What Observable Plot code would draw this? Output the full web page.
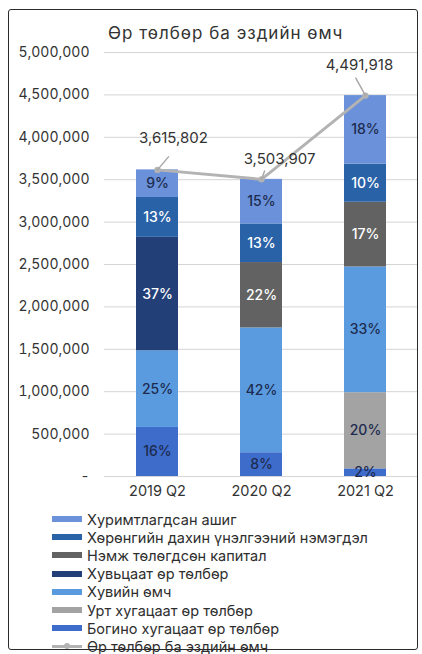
<!DOCTYPE html>
<html>
<head>
<meta charset="utf-8">
<script src="https://cdn.jsdelivr.net/npm/d3@7"></script>
<script src="https://cdn.jsdelivr.net/npm/@observablehq/plot@0.6"></script>
<style>
  html, body { margin: 0; padding: 0; background: #fff; }
  body { width: 422px; height: 654px; position: relative; overflow: hidden; font-family: Inter, "Noto Sans", sans-serif; }
  #frame { position: absolute; left: 8px; top: 9px; width: 408px; height: 639px; border: 1.5px solid #2b2b2b; border-radius: 3px; }
  #title { position: absolute; left: 99px; top: 13px; font-size: 17px; color: #333; letter-spacing: 1px; }
  #chart { position: absolute; left: 0px; top: 26px; }
  #legend { position: absolute; left: 43px; top: 500px; font-size: 14.5px; color: #2e2e2e; }
  .item { display: flex; align-items: center; height: 18.2px; white-space: nowrap; }
  .sw { width: 30px; height: 6px; margin-right: 5px; }
  .ln { width: 30px; height: 8px; margin-right: 5px; position: relative; }
  .ln::before { content: ""; position: absolute; left: 0; right: 0; top: 3px; height: 2.5px; background: #b3b3b3; }
  .ln::after { content: ""; position: absolute; left: 12px; top: 1px; width: 6px; height: 6px; border-radius: 50%; background: #b3b3b3; }
</style>
</head>
<body>
<div id="frame">
  <div id="title">Өр төлбөр ба эздийн өмч</div>
  <div id="chart"></div>
  <div id="legend"></div>
</div>
<script>
// ---- data ----
const periods = ["2019 Q2", "2020 Q2", "2021 Q2"];
const totals = [3615802, 3503907, 4491918];
// stack order bottom -> top
const series = [
  "Богино хугацаат өр төлбөр",
  "Урт хугацаат өр төлбөр",
  "Хувийн өмч",
  "Хувьцаат өр төлбөр",
  "Нэмж төлөгдсөн капитал",
  "Хөрөнгийн дахин үнэлгээний нэмэгдэл",
  "Хуримтлагдсан ашиг"
];
// percent shares per series, in period order
const shortDebt   = [16, 8, 2];
const longDebt    = [0, 0, 20];
const ownEquity   = [25, 42, 33];
const shareDebt   = [37, 0, 0];
const paidCapital = [0, 22, 17];
const revaluation = [13, 13, 10];
const retained    = [9, 15, 18];
const lineName = "Өр төлбөр ба эздийн өмч";
const yTicks = [0, 500000, 1000000, 1500000, 2000000, 2500000, 3000000, 3500000, 4000000, 4500000, 5000000];

const colors = ["#3d6ccb", "#a3a3a3", "#5a9be0", "#233f78", "#626262", "#2a62a8", "#6a91d9"];
const textColors = ["#1d2b4f", "#1d2b4f", "#1d2b4f", "#ffffff", "#ffffff", "#ffffff", "#1d2b4f"];

const shares = [shortDebt, longDebt, ownEquity, shareDebt, paidCapital, revaluation, retained];
const rows = [];
series.forEach((s, si) => {
  periods.forEach((p, pi) => {
    const pct = shares[si][pi];
    if (pct > 0) rows.push({period: p, series: s, pct, value: pct / 100 * totals[pi], tc: textColors[si]});
  });
});
const lineData = periods.map((p, i) => ({period: p, total: totals[i], i}));

const fmt = d3.format(",");
// label offsets (pixels) for the total labels and their leader lines
const lblDx = [16, 18, -6];
const lblDy = [-32, -20, -30];
const leadRot = [40, 20, -29];
const leadLen = [17, 9, 20];

const lineShape = { draw(ctx, l) { ctx.moveTo(0, 0); ctx.lineTo(0, -l); } };

const plot = Plot.plot({
  width: 408,
  height: 470,
  marginLeft: 95,
  marginRight: 0,
  marginTop: 16,
  marginBottom: 30,
  style: { fontFamily: "Inter, 'Noto Sans', sans-serif", background: "transparent", overflow: "visible" },
  x: { domain: periods, padding: 0.6, label: null, paddingOuter: 0.3 },
  y: { domain: [0, 5000000], label: null },
  color: { domain: series, range: colors },
  marks: [
    Plot.gridY(yTicks, { stroke: "#d4d4d4", strokeOpacity: 1, strokeWidth: 1 }),
    Plot.axisY(yTicks, {
      tickSize: 0, tickPadding: 15, fontSize: 14, fill: "#333", label: null,
      tickFormat: d => d === 0 ? "-" : fmt(d)
    }),
    Plot.axisX({ tickSize: 0, tickPadding: 9, fontSize: 14.5, fill: "#333", label: null }),
    Plot.barY(rows, Plot.stackY({ x: "period", y: "value", fill: "series", order: series })),
    Plot.text(rows, Plot.stackY({
      x: "period", y: "value", order: series, text: d => d.pct + "%",
      fill: "tc", fontSize: 14, fontWeight: 500
    })),
    Plot.lineY(lineData, { x: "period", y: "total", stroke: "#b3b3b3", strokeWidth: 3 }),
    Plot.dot(lineData, { x: "period", y: "total", r: 3.2, fill: "#b3b3b3" }),
    ...lineData.map(d => Plot.vector([d], {
      x: "period", y: "total", anchor: "start", shape: lineShape,
      length: leadLen[d.i], rotate: leadRot[d.i], stroke: "#a8a8a8", strokeWidth: 1.5
    })),
    ...lineData.map(d => Plot.text([d], {
      x: "period", y: "total", text: v => fmt(v.total), dx: lblDx[d.i], dy: lblDy[d.i],
      fontSize: 15, fill: "#333"
    }))
  ]
});
document.getElementById("chart").appendChild(plot);

// legend (top -> bottom is reversed stack order)
const legend = document.getElementById("legend");
series.slice().reverse().forEach((s) => {
  const idx = series.indexOf(s);
  const div = document.createElement("div");
  div.className = "item";
  div.innerHTML = `<span class="sw" style="background:${colors[idx]}"></span><span>${s}</span>`;
  legend.appendChild(div);
});
const ld = document.createElement("div");
ld.className = "item";
ld.innerHTML = `<span class="ln"></span><span>${lineName}</span>`;
legend.appendChild(ld);
</script>
</body>
</html>
